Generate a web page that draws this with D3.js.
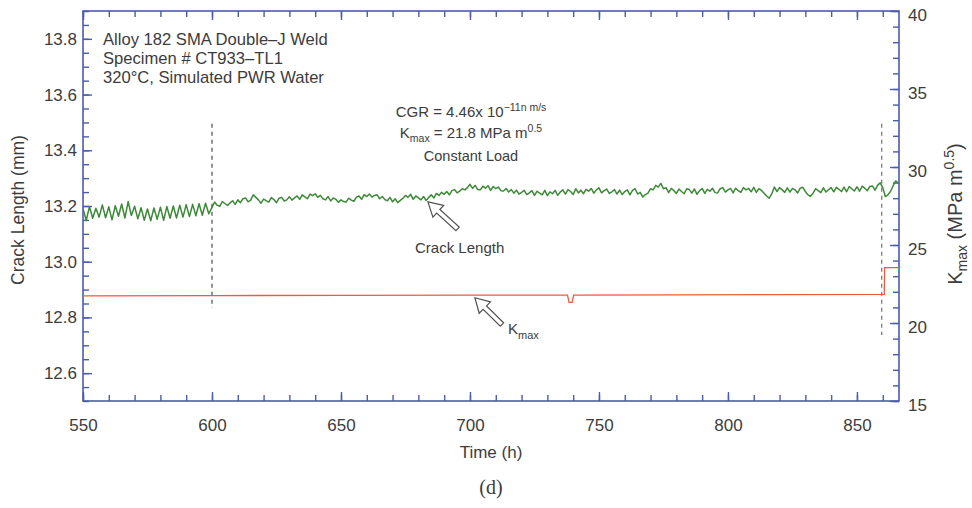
<!DOCTYPE html>
<html>
<head>
<meta charset="utf-8">
<script src="https://cdn.jsdelivr.net/npm/d3@7"></script>
<style>
  body { margin: 0; background: #fff; }
  text { font-family: "Liberation Sans", Arial, Helvetica, sans-serif; fill: #3c3c3c; }
</style>
</head>
<body>
<svg id="chart" width="972" height="508"></svg>
<script>
// ---- data ----------------------------------------------------------------
const timeTicks = [550, 600, 650, 700, 750, 800, 850];
const crackTicks = [12.6, 12.8, 13.0, 13.2, 13.4, 13.6, 13.8];
const kTicks = [15, 20, 25, 30, 35, 40];

// crack length (mm), cyclic loading period, sampled every 1.25 h from 550 h
const cyclicStart = 550, cyclicStep = 1.25;
const crackCyclic = [
  13.190, 13.148, 13.198, 13.156, 13.192, 13.160, 13.204, 13.158, 13.197, 13.150,
  13.201, 13.163, 13.207, 13.157, 13.216, 13.166, 13.199, 13.154, 13.194, 13.149,
  13.189, 13.147, 13.193, 13.152, 13.196, 13.149, 13.198, 13.156, 13.200, 13.157,
  13.203, 13.160, 13.205, 13.162, 13.206, 13.165, 13.208, 13.167, 13.210, 13.172,
  13.195
];

// crack length (mm), constant load period, sampled hourly from 601 h
const steadyStart = 601, steadyStep = 1;
const crackSteady = [
  13.214, 13.203, 13.199, 13.216, 13.209, 13.202, 13.211, 13.219, 13.206, 13.222,
  13.212, 13.226, 13.229, 13.215, 13.221, 13.240, 13.231, 13.222, 13.210, 13.225,
  13.219, 13.214, 13.230, 13.223, 13.212, 13.228, 13.231, 13.218, 13.222, 13.233,
  13.221, 13.229, 13.236, 13.224, 13.240, 13.233, 13.226, 13.243, 13.237, 13.244,
  13.231, 13.238, 13.226, 13.222, 13.234, 13.218, 13.229, 13.224, 13.213, 13.222,
  13.216, 13.214, 13.228, 13.221, 13.217, 13.232, 13.236, 13.224, 13.241, 13.234,
  13.243, 13.232, 13.238, 13.240, 13.226, 13.234, 13.223, 13.219, 13.231, 13.215,
  13.226, 13.212, 13.220, 13.228, 13.238, 13.231, 13.242, 13.224, 13.236, 13.229,
  13.222, 13.234, 13.220, 13.231, 13.240, 13.229, 13.245, 13.238, 13.249, 13.242,
  13.252, 13.240, 13.255, 13.259, 13.247, 13.253, 13.262, 13.258, 13.266, 13.278,
  13.263, 13.274, 13.259, 13.258, 13.271, 13.264, 13.273, 13.256, 13.270, 13.262,
  13.268, 13.255, 13.254, 13.263, 13.250, 13.259, 13.246, 13.257, 13.243, 13.249,
  13.256, 13.241, 13.247, 13.255, 13.238, 13.253, 13.246, 13.240, 13.256, 13.237,
  13.251, 13.244, 13.256, 13.238, 13.250, 13.258, 13.243, 13.259, 13.252, 13.241,
  13.262, 13.247, 13.257, 13.244, 13.260, 13.253, 13.263, 13.246, 13.258, 13.265,
  13.247, 13.255, 13.261, 13.245, 13.251, 13.259, 13.243, 13.257, 13.241, 13.252,
  13.258, 13.240, 13.256, 13.262, 13.243, 13.249, 13.232, 13.241, 13.246, 13.262,
  13.258, 13.274, 13.268, 13.281, 13.262, 13.266, 13.248, 13.263, 13.256, 13.245,
  13.261, 13.252, 13.244, 13.262, 13.259, 13.246, 13.261, 13.242, 13.255, 13.263,
  13.245, 13.260, 13.253, 13.264, 13.248, 13.247, 13.262, 13.266, 13.250, 13.258,
  13.263, 13.247, 13.264, 13.255, 13.249, 13.266, 13.258, 13.263, 13.251, 13.267,
  13.249, 13.262, 13.256, 13.246, 13.236, 13.228, 13.244, 13.268, 13.252, 13.266,
  13.258, 13.249, 13.265, 13.250, 13.263, 13.258, 13.247, 13.264, 13.267, 13.252,
  13.240, 13.235, 13.246, 13.262, 13.255, 13.248, 13.265, 13.250, 13.259, 13.266,
  13.251, 13.267, 13.260, 13.252, 13.268, 13.251, 13.270, 13.262, 13.254, 13.269,
  13.253, 13.271, 13.264, 13.255, 13.270, 13.272, 13.257, 13.274, 13.283, 13.266,
  13.234, 13.240, 13.252, 13.272, 13.290, 13.282
];

// K max (MPa m^0.5)
const kmaxConstant = 21.8;
const kmaxTimes  = [550, 600, 650, 700, 737.8, 738.4, 739.6, 740.2, 780, 820, 860.6, 860.7, 866.3];
const kmaxValues = [21.74, 21.76, 21.77, 21.79, 21.79, 21.32, 21.32, 21.79, 21.80, 21.82, 21.84, 23.55, 23.55];

// test-condition change markers (h) and their vertical extent (mm)
const markerTimes = [600, 859.6];
const markerTops = [13.495, 13.495];
const markerBottoms = [12.834, 12.737];

const cgrValue = "4.46";

// ---- layout --------------------------------------------------------------
const svg = d3.select("#chart");
const plotLeft = 83, plotRight = 899, plotTop = 11, plotBottom = 401;
const axisColor = "#4b5cab";
const textColor = "#3c3c3c";

const x = d3.scaleLinear().domain([550, 866.3]).range([plotLeft, plotRight]);
const yL = d3.scaleLinear().domain([12.5, 13.9]).range([plotBottom, plotTop]);
const yR = d3.scaleLinear().domain([15, 40]).range([plotBottom, plotTop]);

svg.append("defs").append("clipPath").attr("id", "plot-clip")
  .append("rect").attr("x", plotLeft).attr("y", plotTop)
  .attr("width", plotRight - plotLeft).attr("height", plotBottom - plotTop);

function styleAxis(g, size) {
  g.select(".domain").remove();
  g.selectAll(".tick line").attr("stroke", axisColor).attr("stroke-width", 1.4);
  g.selectAll(".tick text").attr("fill", textColor)
    .style("font-size", size + "px")
    .style("font-family", "'Liberation Sans', Arial, Helvetica, sans-serif");
}

const minorTime = d3.range(550, 867, 10);
const minorCrack = d3.range(12.5, 13.91, 0.05);
const minorK = d3.range(15, 40.1, 1);

// bottom axis
svg.append("g").attr("transform", `translate(0,${plotBottom})`)
  .call(d3.axisBottom(x).tickValues(minorTime).tickSize(-6).tickFormat(""))
  .call(g => styleAxis(g, 17));
svg.append("g").attr("transform", `translate(0,${plotBottom})`)
  .call(d3.axisBottom(x).tickValues(timeTicks).tickSize(-9).tickPadding(18).tickFormat(d3.format("d")))
  .call(g => styleAxis(g, 17));

// top axis (ticks only)
svg.append("g").attr("transform", `translate(0,${plotTop})`)
  .call(d3.axisTop(x).tickValues(minorTime).tickSize(-6).tickFormat(""))
  .call(g => styleAxis(g, 17));
svg.append("g").attr("transform", `translate(0,${plotTop})`)
  .call(d3.axisTop(x).tickValues(timeTicks).tickSize(-9).tickFormat(""))
  .call(g => styleAxis(g, 17));

// left axis
svg.append("g").attr("transform", `translate(${plotLeft},0)`)
  .call(d3.axisLeft(yL).tickValues(minorCrack).tickSize(-6).tickFormat(""))
  .call(g => styleAxis(g, 17));
svg.append("g").attr("transform", `translate(${plotLeft},0)`)
  .call(d3.axisLeft(yL).tickValues(crackTicks).tickSize(-9).tickPadding(6).tickFormat(d3.format(".1f")))
  .call(g => styleAxis(g, 17));

// right axis
svg.append("g").attr("transform", `translate(${plotRight},0)`)
  .call(d3.axisRight(yR).tickValues(minorK).tickSize(-6).tickFormat(""))
  .call(g => styleAxis(g, 17));
svg.append("g").attr("transform", `translate(${plotRight},0)`)
  .call(d3.axisRight(yR).tickValues(kTicks).tickSize(-9).tickPadding(9).tickFormat(d3.format("d")))
  .call(g => styleAxis(g, 17))
  .call(g => g.selectAll(".tick text").attr("dy", "0.55em"));

// frame
svg.append("rect").attr("x", plotLeft).attr("y", plotTop)
  .attr("width", plotRight - plotLeft).attr("height", plotBottom - plotTop)
  .attr("fill", "none").attr("stroke", axisColor).attr("stroke-width", 1.6);

// ---- series --------------------------------------------------------------
const plot = svg.append("g").attr("clip-path", "url(#plot-clip)");

markerTimes.forEach((t, i) => {
  plot.append("line")
    .attr("x1", x(t)).attr("x2", x(t))
    .attr("y1", yL(markerTops[i])).attr("y2", yL(markerBottoms[i]))
    .attr("stroke", i === 0 ? "#4a4a4a" : "#6d7560")
    .attr("stroke-width", 1.2)
    .attr("stroke-dasharray", "4,4");
});

const crackPoints = crackCyclic.map((v, i) => ({ t: cyclicStart + i * cyclicStep, v }))
  .concat(crackSteady.map((v, i) => ({ t: steadyStart + i * steadyStep, v })));

plot.append("path").datum(crackPoints)
  .attr("fill", "none").attr("stroke", "#3c8a38").attr("stroke-width", 1.5)
  .attr("stroke-linejoin", "round")
  .attr("d", d3.line().x(d => x(d.t)).y(d => yL(d.v)));

const kPoints = kmaxTimes.map((t, i) => ({ t, v: kmaxValues[i] }));
plot.append("path").datum(kPoints)
  .attr("fill", "none").attr("stroke", "#ee5a3c").attr("stroke-width", 1.3)
  .attr("d", d3.line().x(d => x(d.t)).y(d => yR(d.v)));

// ---- annotations ---------------------------------------------------------
function hollowArrow(tipX, tipY, tailX, tailY) {
  const dx = tailX - tipX, dy = tailY - tipY;
  const len = Math.hypot(dx, dy);
  const ang = Math.atan2(dy, dx) * 180 / Math.PI;
  const hl = 14, hw = 8, sw = 2.4;
  const pts = [[0, 0], [hl, -hw], [hl, -sw], [len, -sw], [len, sw], [hl, sw], [hl, hw]];
  svg.append("polygon")
    .attr("points", pts.map(p => p.join(",")).join(" "))
    .attr("transform", `translate(${tipX},${tipY}) rotate(${ang})`)
    .attr("fill", "#fff").attr("stroke", "#505050").attr("stroke-width", 1.2)
    .attr("stroke-linejoin", "miter");
}

hollowArrow(x(683.7), yL(13.215), x(695.2), yL(13.118));
hollowArrow(x(701.9), yR(21.62), x(712.4), yR(19.9));

svg.append("text").attr("x", x(696)).attr("y", 253)
  .attr("text-anchor", "middle").style("font-size", "15px").text("Crack Length");

const kLabel = svg.append("text").attr("x", 508).attr("y", 334).style("font-size", "15px");
kLabel.append("tspan").text("K");
kLabel.append("tspan").attr("dy", 5).style("font-size", "11px").text("max");

// specimen block
const spec = ["Alloy 182 SMA Double\u2013J Weld", "Specimen # CT933\u2013TL1", "320\u00B0C, Simulated PWR Water"];
spec.forEach((s, i) => {
  svg.append("text").attr("x", 103).attr("y", 45 + i * 19)
    .style("font-size", "16.6px").text(s);
});

// growth-rate block
const cx = 471;
const l1 = svg.append("text").attr("x", cx).attr("y", 117).attr("text-anchor", "middle").style("font-size", "15px");
l1.append("tspan").text(`CGR = ${cgrValue}x 10`);
l1.append("tspan").attr("dy", -6).style("font-size", "10.5px").text("\u221211n m/s");

const l2 = svg.append("text").attr("x", cx).attr("y", 138).attr("text-anchor", "middle").style("font-size", "15px");
l2.append("tspan").text("K");
l2.append("tspan").attr("dy", 4).style("font-size", "10.5px").text("max");
l2.append("tspan").attr("dy", -4).text(` = ${kmaxConstant} MPa m`);
l2.append("tspan").attr("dy", -6).style("font-size", "10.5px").text("0.5");

svg.append("text").attr("x", cx).attr("y", 161).attr("text-anchor", "middle")
  .style("font-size", "14.5px").text("Constant Load");

// axis titles
svg.append("text").attr("x", 491).attr("y", 458).attr("text-anchor", "middle")
  .style("font-size", "17px").text("Time (h)");

svg.append("text").attr("transform", `translate(24,${(plotTop + plotBottom) / 2 + 4}) rotate(-90)`)
  .attr("text-anchor", "middle").style("font-size", "17.5px").text("Crack Length (mm)");

const rt = svg.append("text").attr("transform", `translate(962,214) rotate(-90)`)
  .attr("text-anchor", "middle").style("font-size", "20px");
rt.append("tspan").text("K");
rt.append("tspan").attr("dy", 5).style("font-size", "14px").text("max");
rt.append("tspan").attr("dy", -5).text(" (MPa m");
rt.append("tspan").attr("dy", -8).style("font-size", "14px").text("0.5");
rt.append("tspan").attr("dy", 8).text(")");

// panel caption
svg.append("text").attr("x", 491).attr("y", 494).attr("text-anchor", "middle")
  .style("font-family", "'Liberation Serif', 'Times New Roman', serif")
  .style("font-size", "20px").text("(d)");
</script>
</body>
</html>
